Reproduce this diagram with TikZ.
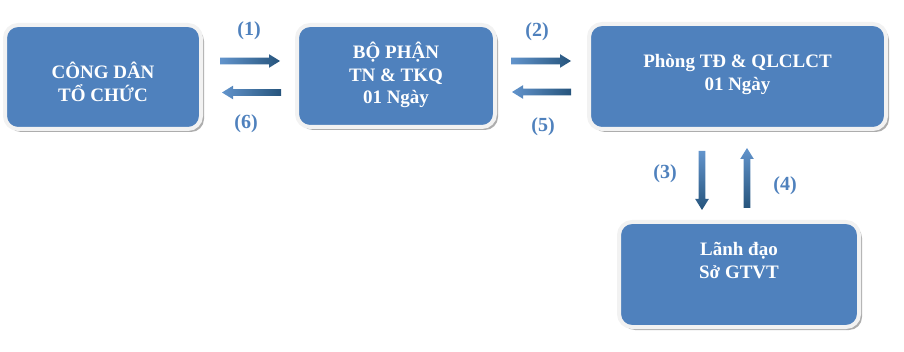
\documentclass[tikz,border=0pt]{standalone}
\usepackage{fontspec}
\setmainfont{Liberation Serif}
\usetikzlibrary{shadows}
\definecolor{boxblue}{RGB}{79,129,189}
\definecolor{rimgray}{RGB}{242,242,242}
\definecolor{arrlight}{RGB}{98,148,204}
\definecolor{arrdark}{RGB}{38,84,124}
\tikzset{
  flowbox/.style={draw=rimgray, line width=4pt, fill=boxblue, rounded corners=13pt,
    inner sep=0pt,
    drop shadow={shadow xshift=3pt, shadow yshift=-3pt, fill=black!40, opacity=0.8}},
  boxtext/.style={text=white, align=center, font=\bfseries\fontsize{19}{22.5}\selectfont},
  steplabel/.style={text=boxblue, font=\bfseries\fontsize{20}{24}\selectfont, inner sep=0pt},
  % block arrows, shaft half width 3.3pt, head 11pt long and 13pt wide
  arrR/.style={to path={([yshift=3.3pt]\tikztostart) -- ([xshift=-11pt,yshift=3.3pt]\tikztotarget)
    -- ([xshift=-11pt,yshift=6.8pt]\tikztotarget) -- (\tikztotarget)
    -- ([xshift=-11pt,yshift=-6.8pt]\tikztotarget) -- ([xshift=-11pt,yshift=-3.3pt]\tikztotarget)
    -- ([yshift=-3.3pt]\tikztostart) -- cycle}},
  arrL/.style={to path={([yshift=3.3pt]\tikztostart) -- ([xshift=11pt,yshift=3.3pt]\tikztotarget)
    -- ([xshift=11pt,yshift=6.8pt]\tikztotarget) -- (\tikztotarget)
    -- ([xshift=11pt,yshift=-6.8pt]\tikztotarget) -- ([xshift=11pt,yshift=-3.3pt]\tikztotarget)
    -- ([yshift=-3.3pt]\tikztostart) -- cycle}},
  arrD/.style={to path={([xshift=3.3pt]\tikztostart) -- ([yshift=11pt,xshift=3.3pt]\tikztotarget)
    -- ([yshift=11pt,xshift=6.8pt]\tikztotarget) -- (\tikztotarget)
    -- ([yshift=11pt,xshift=-6.8pt]\tikztotarget) -- ([yshift=11pt,xshift=-3.3pt]\tikztotarget)
    -- ([xshift=-3.3pt]\tikztostart) -- cycle}},
  arrU/.style={to path={([xshift=3.3pt]\tikztostart) -- ([yshift=-11pt,xshift=3.3pt]\tikztotarget)
    -- ([yshift=-11pt,xshift=6.8pt]\tikztotarget) -- (\tikztotarget)
    -- ([yshift=-11pt,xshift=-6.8pt]\tikztotarget) -- ([yshift=-11pt,xshift=-3.3pt]\tikztotarget)
    -- ([xshift=-3.3pt]\tikztostart) -- cycle}},
  hshade/.style={left color=arrlight, right color=arrdark},
  vshade/.style={top color=arrlight, bottom color=arrdark}
}
\begin{document}
\begin{tikzpicture}[x=1pt, y=-1pt]
\useasboundingbox (0,0) rectangle (904,352);

% process boxes
\node[flowbox, minimum width=196pt, minimum height=104pt,
  label={[boxtext, yshift=-5pt]center:CÔNG DÂN\\TỔ CHỨC}] (citizen) at (103,77) {};
\node[flowbox, minimum width=198pt, minimum height=102pt,
  label={[boxtext, yshift=1pt]center:BỘ PHẬN\\TN \& TKQ\\01 Ngày}] (desk) at (396,76) {};
\node[flowbox, minimum width=297pt, minimum height=105pt,
  label={[boxtext, yshift=2pt]center:Phòng TĐ \& QLCLCT\\01 Ngày}] (dept) at (737.5,76.5) {};
\node[flowbox, minimum width=240pt, minimum height=105pt,
  label={[boxtext, yshift=14pt]center:Lãnh đạo\\Sở GTVT}] (lead) at (739,274.5) {};

% arrow end points
\coordinate (a1s) at (220,61);  \coordinate (a1e) at (280,61);
\coordinate (a6s) at (281,92.5);\coordinate (a6e) at (222,92.5);
\coordinate (a2s) at (511,61);  \coordinate (a2e) at (571,61);
\coordinate (a5s) at (571,92);  \coordinate (a5e) at (512,92);
\coordinate (a3s) at (702,151); \coordinate (a3e) at (702,210);
\coordinate (a4s) at (747,208); \coordinate (a4e) at (747,148);

% block arrows
\shade[arrR, hshade] (a1s) to (a1e);
\shade[arrL, hshade] (a6s) to (a6e);
\shade[arrR, hshade] (a2s) to (a2e);
\shade[arrL, hshade] (a5s) to (a5e);
\shade[arrD, vshade] (a3s) to (a3e);
\shade[arrU, vshade] (a4s) to (a4e);

% step numbers
\node[steplabel] (s1) at (249,31) {(1)};
\node[steplabel] (s6) at (246,124) {(6)};
\node[steplabel] (s2) at (537,32) {(2)};
\node[steplabel] (s5) at (543,127) {(5)};
\node[steplabel] (s3) at (665,174) {(3)};
\node[steplabel] (s4) at (785,186) {(4)};
\end{tikzpicture}
\end{document}
